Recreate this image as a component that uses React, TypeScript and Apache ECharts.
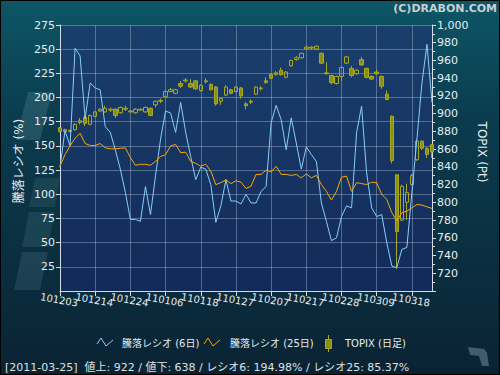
import React, { useEffect, useRef } from "react";
import * as echarts from "echarts";

// ---- data ----
const dates = [
  "101203", "101206", "101207", "101208", "101209", "101210", "101213", "101214", "101215", "101216",
  "101217", "101220", "101221", "101222", "101224", "101227", "101228", "101229", "101230",
  "110104", "110105", "110106", "110107", "110111", "110112", "110113", "110114", "110117", "110118",
  "110119", "110120", "110121", "110124", "110125", "110126", "110127", "110128", "110131",
  "110201", "110202", "110203", "110204", "110207", "110208", "110209", "110210", "110214", "110215",
  "110216", "110217", "110218", "110221", "110222", "110223", "110224", "110225", "110228",
  "110301", "110302", "110303", "110304", "110307", "110308", "110309", "110310", "110311", "110314",
  "110315", "110316", "110317", "110318", "110322", "110323", "110324", "110325",
];

// 騰落レシオ (6日)
const ratio6 = [
  128, 166, 150, 251, 243, 178, 215, 210, 208, 170,
  164, 146, 126, 102, 74, 74, 72, 108, 79, 119,
  157, 186, 184, 164, 195, 164, 139, 115, 128, 126,
  110, 71, 88, 115, 93, 93, 90, 100, 91, 91,
  103, 108, 174, 192, 177, 146, 179, 153, 126, 149,
  141, 134, 91, 72, 52, 55, 77, 88, 86, 164,
  191, 122, 86, 77, 79, 50, 26, 24, 43, 45,
  102, 157, 215, 255, 194.98,
];

// 騰落レシオ (25日)
const ratio25 = [
  129, 141, 150, 158, 163, 152.5, 150.5, 150.5, 152.5, 148,
  147, 147, 147.5, 148, 138, 130, 131, 131, 130, 134,
  139, 141, 150, 151.5, 143, 143.5, 134, 132, 129, 131,
  124, 110, 112, 115, 111, 114, 112.5, 106, 108.4, 120.5,
  120.5, 125, 123, 129, 120.5, 120.5, 119.5, 120.5, 117, 121,
  117, 119.5, 110, 103, 94, 103, 117.7, 118.7, 103, 112,
  111, 110, 112.5, 112, 100, 94.6, 81, 72.5, 81, 82.5,
  86, 89.5, 88.8, 87, 85.37,
];

// TOPIX (日足)
const topixOpen = [
  884, 880, 881, 882, 890, 896, 888, 897, 903, 902,
  904, 905, 901, 905, 903, 901, 904, 902, 906, 910,
  914, 919, 925, 923, 934, 938, 934, 937, 926, 936,
  933, 930, 914, 921, 927, 925, 929, 911, 914, 922,
  928, 937, 944, 944, 949, 941, 954, 961, 963, 973,
  974, 973, 968, 946, 943, 934, 942, 957, 951, 945,
  961, 951, 942, 947, 942, 922, 897, 831, 780, 800,
  820, 848, 869, 861, 865,
];
const topixClose = [
  880, 882, 880, 888, 892, 889, 898, 902, 905, 906,
  905, 898, 907, 906, 902, 905, 905, 907, 898, 914,
  915, 925, 927, 927, 931, 937, 930, 928, 932, 937,
  927, 911, 917, 930, 923, 930, 920, 909, 913, 930,
  929, 935, 940, 946, 944, 947, 960, 963, 968, 975,
  975, 976, 957, 945, 935, 942, 952, 964, 943, 949,
  955, 941, 939, 945, 931, 916, 847, 767, 818, 811,
  830, 869, 861, 854, 857,
];
const topixLow = [
  879, 879, 879, 881, 888, 886, 887, 896, 902, 901,
  902, 895, 900, 903, 901, 900, 903, 901, 897, 907,
  912, 918, 924, 922, 929, 935, 929, 927, 925, 934,
  926, 909, 910, 920, 922, 924, 917, 905, 911, 921,
  926, 934, 939, 943, 943, 940, 953, 960, 962, 972,
  972, 972, 956, 944, 933, 933, 937, 956, 941, 944,
  954, 940, 938, 944, 928, 915, 844, 725, 779, 780,
  819, 847, 859, 850, 850,
];
const topixHigh = [
  885, 883, 882, 889, 895, 898, 899, 903, 906, 909,
  907, 906, 908, 909, 904, 906, 906, 908, 907, 915,
  917, 926, 929, 928, 937, 940, 939, 938, 933, 940,
  934, 931, 918, 932, 928, 931, 930, 913, 916, 931,
  931, 941, 945, 948, 952, 948, 961, 965, 969, 977,
  976, 977, 969, 958, 944, 943, 953, 965, 954, 950,
  964, 952, 943, 950, 943, 926, 898, 832, 820, 821,
  832, 871, 870, 862, 866,
];

const seriesNames = ["騰落レシオ (6日)", "騰落レシオ (25日)", "TOPIX (日足)"];
const lastDate = "2011-03-25";
const advances = 922;
const declines = 638;

const leftAxisName = "騰落レシオ (%)";
const rightAxisName = "TOPIX (Pt)";
const copyright = "(C)DRABON.COM";

// ---- styles ----
const FONT = "'DejaVu Sans', 'Noto Sans CJK JP', sans-serif";
const BLUE = "#87cefa";
const ORANGE = "#ffa500";
const OLIVE_FILL = "#8e8e12";
const OLIVE_LINE = "#a8a820";
const LABEL = "#e6ecef";
const AXIS = "#d5dbe3";
const GRIDLINE = "rgba(200,212,232,0.36)";
const TICK_STEP = 7;

export default function App() {
  const ref = useRef<HTMLDivElement>(null);

  useEffect(() => {
    if (!ref.current) return;
    const chart = echarts.init(ref.current, null, { renderer: "svg" });

    const candles = topixOpen.map((o, i) => [o, topixClose[i], topixLow[i], topixHigh[i]]);
    const status =
      `[${lastDate}]  値上: ${advances} / 値下: ${declines} / レシオ6: ${ratio6[ratio6.length - 1].toFixed(2)}% / レシオ25: ${ratio25[ratio25.length - 1].toFixed(2)}%`;

    const xLabelBase = {
      rotate: -10,
      align: "center",
      verticalAlign: "top",
      margin: 4,
      fontSize: 10,
      color: LABEL,
      fontFamily: FONT,
    };

    const option: any = {
      animation: false,
      backgroundColor: new echarts.graphic.LinearGradient(0, 0, 0, 1, [
        { offset: 0, color: "#0d5666" },
        { offset: 0.3, color: "#0a3d4f" },
        { offset: 1, color: "#0a2333" },
      ]),
      textStyle: { fontFamily: FONT },
      grid: {
        left: 60,
        right: 68,
        top: 25,
        bottom: 84,
        show: true,
        borderWidth: 0,
        backgroundColor: new echarts.graphic.LinearGradient(0, 0, 0, 1, [
          { offset: 0, color: "#1a3f6c" },
          { offset: 1, color: "#122a59" },
        ]),
      },
      xAxis: [
        {
          type: "category",
          data: dates,
          position: "bottom",
          boundaryGap: false,
          axisLine: { show: true, lineStyle: { color: AXIS, width: 1 } },
          axisTick: { show: true, interval: TICK_STEP - 1, length: 5, lineStyle: { color: AXIS } },
          axisLabel: { ...xLabelBase, interval: (i: number) => i % (TICK_STEP * 2) === 0 },
          splitLine: { show: true, interval: TICK_STEP - 1, lineStyle: { color: GRIDLINE, width: 1 } },
        },
        {
          type: "category",
          data: dates,
          position: "bottom",
          boundaryGap: false,
          axisLine: { show: false },
          axisTick: { show: false },
          splitLine: { show: false },
          axisLabel: { ...xLabelBase, interval: (i: number) => i % (TICK_STEP * 2) === TICK_STEP },
        },
      ],
      yAxis: [
        {
          type: "value",
          position: "left",
          min: 0,
          max: 275,
          interval: 25,
          axisLine: { show: true, lineStyle: { color: AXIS, width: 1 } },
          axisTick: { show: true, length: 4, lineStyle: { color: AXIS } },
          axisLabel: { showMinLabel: false, fontSize: 11, color: LABEL, margin: 5, fontFamily: FONT },
          splitLine: { show: true, lineStyle: { color: GRIDLINE, width: 1 } },
        },
        {
          type: "value",
          position: "right",
          min: 700,
          max: 1000,
          interval: 20,
          axisLine: { show: true, lineStyle: { color: AXIS, width: 1 } },
          axisTick: { show: true, length: 4, lineStyle: { color: AXIS } },
          minorTick: { show: true, splitNumber: 2, length: 3, lineStyle: { color: AXIS } },
          axisLabel: {
            showMinLabel: false,
            fontSize: 11,
            color: LABEL,
            margin: 5,
            fontFamily: FONT,
            formatter: (v: number) => (v >= 1000 ? "1,000" : String(v)),
          },
          splitLine: { show: false },
        },
      ],
      series: [
        {
          name: seriesNames[2],
          type: "candlestick",
          yAxisIndex: 1,
          data: candles,
          barWidth: 4,
          itemStyle: {
            color: "rgba(0,0,0,0)",
            color0: OLIVE_FILL,
            borderColor: OLIVE_LINE,
            borderColor0: OLIVE_LINE,
            borderWidth: 1,
          },
          z: 2,
        },
        {
          name: seriesNames[0],
          type: "line",
          yAxisIndex: 0,
          data: ratio6,
          symbol: "none",
          lineStyle: { color: BLUE, width: 1 },
          itemStyle: { color: BLUE },
          z: 3,
        },
        {
          name: seriesNames[1],
          type: "line",
          yAxisIndex: 0,
          data: ratio25,
          symbol: "none",
          lineStyle: { color: ORANGE, width: 1 },
          itemStyle: { color: ORANGE },
          z: 4,
        },
      ],
      graphic: [
        // faint watermark blocks on the left
        {
          type: "group",
          silent: true,
          z: -1,
          children: [
            { type: "polygon", shape: { points: [[14, 290], [40, 290], [48, 252], [22, 252]] }, style: { fill: "rgba(130,175,185,0.16)" } },
            { type: "polygon", shape: { points: [[22, 247], [48, 247], [55, 212], [29, 212]] }, style: { fill: "rgba(130,175,185,0.14)" } },
            { type: "polygon", shape: { points: [[29, 207], [55, 207], [60, 178], [35, 178]] }, style: { fill: "rgba(130,175,185,0.12)" } },
            { type: "polygon", shape: { points: [[16, 140], [40, 140], [52, 92], [28, 92]] }, style: { fill: "rgba(130,175,185,0.2)" } },
          ],
        },
        {
          type: "text",
          right: 3,
          top: 3,
          style: { text: copyright, fill: "#c7d0d4", fontSize: 11, fontWeight: "bold", fontFamily: FONT },
        },
        {
          type: "text",
          x: 19,
          y: 161,
          rotation: Math.PI / 2,
          style: { text: leftAxisName, fill: LABEL, fontSize: 12, fontFamily: FONT, align: "center", verticalAlign: "middle" },
        },
        {
          type: "text",
          x: 482,
          y: 152,
          rotation: -Math.PI / 2,
          style: { text: rightAxisName, fill: LABEL, fontSize: 12, fontFamily: FONT, align: "center", verticalAlign: "middle" },
        },
        // legend
        {
          type: "polyline",
          shape: { points: [[97, 344], [101, 338], [106, 346], [113, 340]] },
          style: { stroke: BLUE, lineWidth: 1, fill: "none" },
        },
        {
          type: "text",
          x: 122,
          y: 343,
          style: { text: seriesNames[0], fill: LABEL, fontSize: 10, fontFamily: FONT, verticalAlign: "middle" },
        },
        {
          type: "polyline",
          shape: { points: [[204, 344], [208, 338], [213, 346], [220, 340]] },
          style: { stroke: ORANGE, lineWidth: 1, fill: "none" },
        },
        {
          type: "text",
          x: 230,
          y: 343,
          style: { text: seriesNames[1], fill: LABEL, fontSize: 10, fontFamily: FONT, verticalAlign: "middle" },
        },
        {
          type: "line",
          shape: { x1: 328.5, y1: 335, x2: 328.5, y2: 352 },
          style: { stroke: OLIVE_LINE, lineWidth: 1 },
        },
        {
          type: "rect",
          shape: { x: 325.5, y: 339.5, width: 6, height: 9 },
          style: { fill: OLIVE_FILL, stroke: OLIVE_LINE, lineWidth: 1 },
        },
        {
          type: "text",
          x: 345,
          y: 343,
          style: { text: seriesNames[2], fill: LABEL, fontSize: 10, fontFamily: FONT, verticalAlign: "middle" },
        },
        // status line
        {
          type: "text",
          x: 5,
          y: 367,
          style: { text: status, fill: "#dde1e4", fontSize: 11, fontFamily: FONT, verticalAlign: "middle" },
        },
        // small logo bottom right
        {
          type: "polygon",
          shape: { points: [[468, 347], [484, 349], [487, 353], [489, 366], [482, 366], [479, 356], [470, 355]] },
          style: { fill: "rgba(110,140,155,0.55)" },
        },
        // outer frame
        {
          type: "rect",
          shape: { x: 0.5, y: 0.5, width: 499, height: 374 },
          style: { fill: "none", stroke: "#000", lineWidth: 1 },
          silent: true,
        },
      ],
    };

    chart.setOption(option);
    return () => chart.dispose();
  }, []);

  return (
    <div
      ref={ref}
      style={{ position: "fixed", left: 0, top: 0, width: 500, height: 375 }}
    />
  );
}
